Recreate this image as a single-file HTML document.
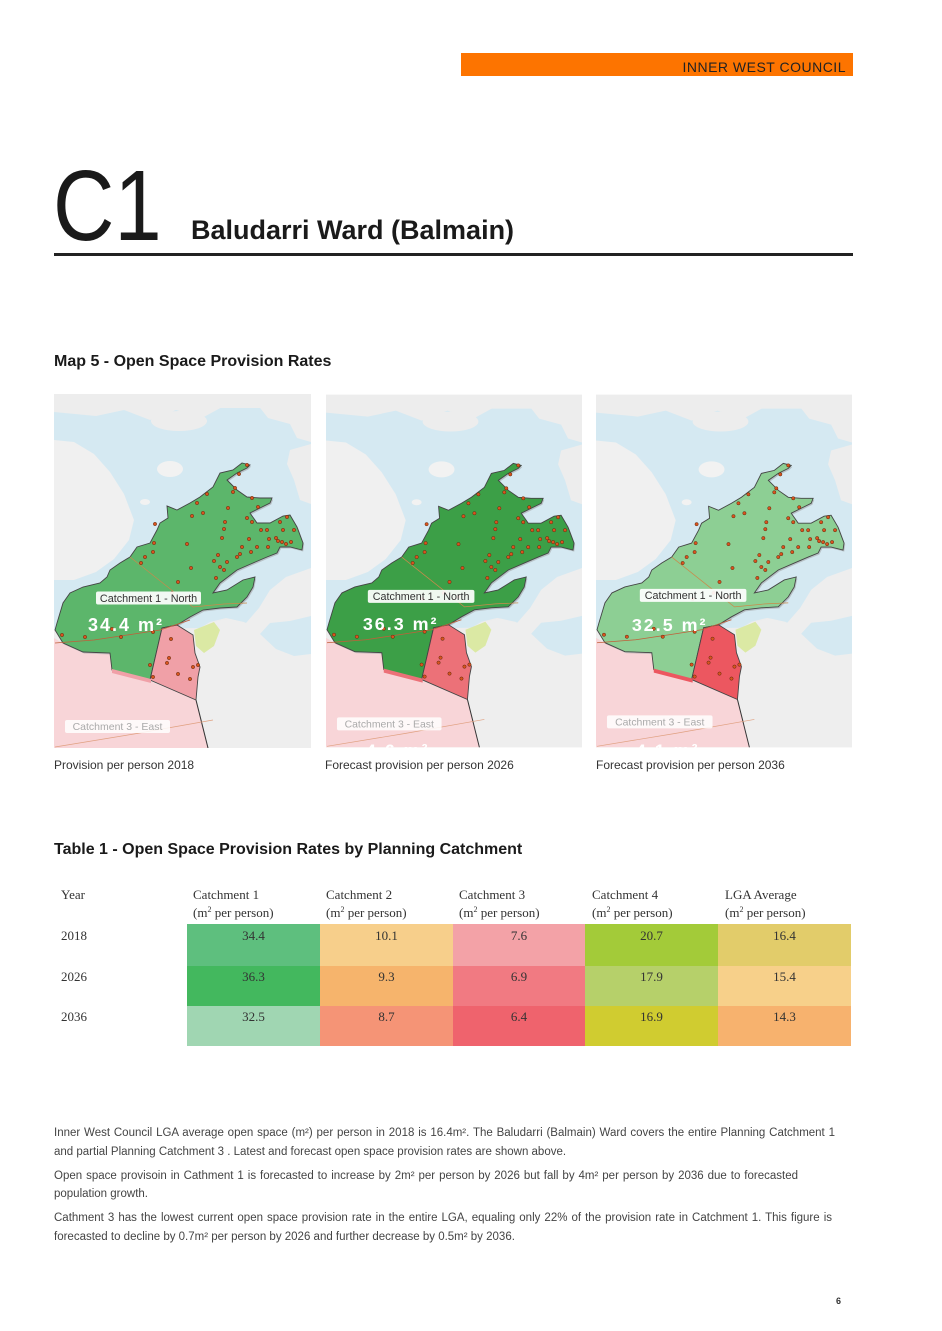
<!DOCTYPE html>
<html><head><meta charset="utf-8">
<style>
html,body{margin:0;padding:0;background:#fff;}
body{width:942px;height:1331px;position:relative;overflow:hidden;font-family:"Liberation Sans",Arial,sans-serif;color:#222;}
.a{position:absolute;white-space:nowrap;}
.bar{position:absolute;left:461px;top:53px;width:392px;height:23px;background:#fd7400;}
.bar span{position:absolute;right:7px;top:5px;font-size:14px;letter-spacing:0.5px;color:#222;line-height:18px;}
.c1{position:absolute;left:53px;top:156px;font-size:100px;line-height:100px;color:#1a1a1a;transform:scaleX(0.85);transform-origin:0 0;}
.t1{position:absolute;left:191px;top:215px;font-size:27px;font-weight:bold;line-height:30px;color:#1a1a1a;}
.rule{position:absolute;left:54px;top:253px;width:799px;height:3px;background:#222;}
.h2{position:absolute;left:54px;font-size:16px;font-weight:bold;line-height:20px;color:#1a1a1a;white-space:nowrap;}
.map{position:absolute;top:394px;}
.cap{position:absolute;top:757px;font-size:12px;line-height:16px;color:#333;white-space:nowrap;}
.ser{font-family:"Liberation Serif","Times New Roman",serif;font-size:13px;line-height:16px;color:#333;position:absolute;white-space:nowrap;}
.ser sup{font-size:8px;line-height:0;vertical-align:5px;}
.cell{position:absolute;font-family:"Liberation Serif","Times New Roman",serif;font-size:13px;color:#333;text-align:center;line-height:16px;box-sizing:border-box;padding-top:4px;}
.p{position:absolute;left:54px;font-size:11.5px;line-height:19px;color:#444;white-space:nowrap;}
.j{text-align:justify;text-align-last:justify;white-space:normal;}
</style></head><body>

<div class="bar"><span>INNER WEST COUNCIL</span></div>
<div class="c1">C1</div>
<div class="t1">Baludarri Ward (Balmain)</div>
<div class="rule"></div>

<div class="h2" style="top:352px;">Map 5 - Open Space Provision Rates</div>

<!-- MAP 1 -->
<svg class="map" style="left:54px;" width="257" height="354" viewBox="0 0 257 354">
<rect width="257" height="354" fill="#ededed"/>
<path d="M0,14 L257,14 L257,246 L236,258 L218,252 L206,236 L190,228 L172,224 L156,228 L146,234 L0,236 Z" fill="#d5e9f2"/>
<path d="M0,0 H257 V10 L232,16 L205,9 L170,12 L148,24 L122,16 L96,26 L70,16 L42,22 L0,18 Z" fill="#ededed"/>
<path d="M203,10 L257,6 V48 L243,44 L236,30 L214,24 Z" fill="#ededed"/>
<path d="M236,56 L257,50 V110 L246,106 L240,86 L233,70 Z" fill="#ededed"/>
<ellipse cx="125" cy="27" rx="28" ry="10" fill="#ededed"/>
<ellipse cx="116" cy="75" rx="13" ry="8" fill="#f2f2f2"/>
<ellipse cx="91" cy="108" rx="5" ry="3" fill="#f2f2f2"/>
<path d="M0,46 L20,48 L40,60 L56,78 L70,100 L80,126 L75,146 L60,165 L42,178 L20,186 L0,186 Z" fill="#f0f0f0"/>
<path d="M146,236 L160,228 L176,225 L192,229 L205,214 L216,196 L232,183 L257,174 V354 H154 L142,306 L146,273 L141,259 L139,241 Z" fill="#eeeeee"/>
<path d="M206,240 L216,229 L236,227 L257,222 V260 L240,262 L222,255 Z" fill="#d5e9f2"/>
<path d="M0,244 L10,250 L29,259 L56,260 L58,277 L96,287 L142,306 L154,354 H0 Z" fill="#f8d5d8"/>
<path d="M140,236 L150,232 L160,228 L166,236 L160,252 L150,259 L142,252 Z" fill="#dbe9a4"/>
<path d="M1,236 L9,249 L29,258 L56,259 L58,276 L96,286 L108,234 L123,231 L136,223 L149,216 L166,214 L183,213 L193,203 L199,193 L201,183 L189,186 L173,196 L159,199 L166,189 L183,176 L199,169 L213,163 L223,159 L226,153 L236,153 L248,156 L249,149 L243,133 L236,121 L229,122 L216,129 L203,129 L196,119 L206,114 L216,109 L218,104 L206,104 L193,103 L183,96 L173,86 L183,79 L193,74 L196,71 L188,69 L179,76 L166,79 L159,93 L146,103 L136,109 L123,116 L113,112 L114,124 L106,129 L103,136 L96,149 L83,153 L76,163 L66,169 L56,176 L53,183 L46,189 L29,193 L16,199 L9,209 L3,229 Z" fill="#9a9a9a" opacity="0.5" transform="translate(1.2,1.5)"/>
<path d="M1,236 L9,249 L29,258 L56,259 L58,276 L96,286 L108,234 L123,231 L136,223 L149,216 L166,214 L183,213 L193,203 L199,193 L201,183 L189,186 L173,196 L159,199 L166,189 L183,176 L199,169 L213,163 L223,159 L226,153 L236,153 L248,156 L249,149 L243,133 L236,121 L229,122 L216,129 L203,129 L196,119 L206,114 L216,109 L218,104 L206,104 L193,103 L183,96 L173,86 L183,79 L193,74 L196,71 L188,69 L179,76 L166,79 L159,93 L146,103 L136,109 L123,116 L113,112 L114,124 L106,129 L103,136 L96,149 L83,153 L76,163 L66,169 L56,176 L53,183 L46,189 L29,193 L16,199 L9,209 L3,229 Z" fill="#5cb66b" stroke="#444" stroke-width="0.9"/>
<path d="M108,234 L123,231 L139,241 L141,259 L146,273 L144,283 L142,306 L96,286 Z" fill="#f0a0a7" stroke="#444" stroke-width="0.9"/>
<path d="M58,275 L97,285 L97,289 L58,279 Z" fill="#f0a0a7"/>
<path d="M142,306 L154,354" stroke="#333" stroke-width="1" fill="none"/>
<path d="M76,163 L110,190 L139,213 L170,210 L193,209" stroke="#c98a4b" stroke-width="0.7" fill="none"/>
<path d="M1,249 L40,246 L80,240 L106,236 L136,226" stroke="#c0603a" stroke-width="0.8" fill="none"/>
<path d="M1,353 L80,340 L159,326" stroke="#e0a080" stroke-width="0.7" fill="none"/>
<g fill="#d9531e" stroke="#5a2a10" stroke-width="0.5">
<circle cx="193" cy="71" r="1.7"/><circle cx="185" cy="80" r="1.7"/><circle cx="181" cy="94" r="1.7"/><circle cx="179" cy="98" r="1.7"/><circle cx="153" cy="100" r="1.7"/><circle cx="143" cy="109" r="1.7"/><circle cx="174" cy="114" r="1.7"/><circle cx="198" cy="104" r="1.7"/><circle cx="204" cy="113" r="1.7"/><circle cx="149" cy="119" r="1.7"/><circle cx="138" cy="122" r="1.7"/><circle cx="171" cy="128" r="1.7"/><circle cx="193" cy="124" r="1.7"/><circle cx="198" cy="128" r="1.7"/><circle cx="233" cy="123" r="1.7"/><circle cx="226" cy="128" r="1.7"/><circle cx="101" cy="130" r="1.7"/><circle cx="170" cy="135" r="1.7"/><circle cx="207" cy="136" r="1.7"/><circle cx="213" cy="136" r="1.7"/><circle cx="229" cy="136" r="1.7"/><circle cx="240" cy="136" r="1.7"/><circle cx="168" cy="144" r="1.7"/><circle cx="195" cy="145" r="1.7"/><circle cx="215" cy="145" r="1.7"/><circle cx="222" cy="144" r="1.7"/><circle cx="224" cy="147" r="1.7"/><circle cx="228" cy="148" r="1.7"/><circle cx="237" cy="148" r="1.7"/><circle cx="100" cy="149" r="1.7"/><circle cx="133" cy="150" r="1.7"/><circle cx="203" cy="153" r="1.7"/><circle cx="214" cy="153" r="1.7"/><circle cx="232" cy="150" r="1.7"/><circle cx="188" cy="153" r="1.7"/><circle cx="99" cy="158" r="1.7"/><circle cx="197" cy="158" r="1.7"/><circle cx="164" cy="161" r="1.7"/><circle cx="186" cy="160" r="1.7"/><circle cx="91" cy="163" r="1.7"/><circle cx="183" cy="163" r="1.7"/><circle cx="160" cy="167" r="1.7"/><circle cx="173" cy="168" r="1.7"/><circle cx="87" cy="169" r="1.7"/><circle cx="137" cy="174" r="1.7"/><circle cx="166" cy="173" r="1.7"/><circle cx="170" cy="176" r="1.7"/><circle cx="162" cy="184" r="1.7"/><circle cx="124" cy="188" r="1.7"/><circle cx="118" cy="199" r="1.7"/><circle cx="97" cy="205" r="1.7"/><circle cx="133" cy="203" r="1.7"/><circle cx="8" cy="241" r="1.7"/><circle cx="31" cy="243" r="1.7"/><circle cx="58" cy="235" r="1.7"/><circle cx="67" cy="243" r="1.7"/><circle cx="99" cy="238" r="1.7"/><circle cx="96" cy="271" r="1.7"/><circle cx="99" cy="283" r="1.7"/>
<circle cx="117" cy="245" r="1.7"/><circle cx="115" cy="264" r="1.7"/><circle cx="113" cy="269" r="1.7"/><circle cx="139" cy="273" r="1.7"/><circle cx="124" cy="280" r="1.7"/><circle cx="136" cy="285" r="1.7"/><circle cx="144" cy="271" r="1.7"/>
</g>
<rect x="42" y="197.5" width="105" height="13" rx="2" fill="#fff" opacity="0.92"/>
<text x="94.5" y="207.8" text-anchor="middle" font-family="Liberation Sans, sans-serif" font-size="10.8" fill="#333">Catchment 1 - North</text>
<text x="34" y="237" font-family="Liberation Sans, sans-serif" font-size="18" font-weight="bold" fill="#fff" letter-spacing="2">34.4 m²</text>
<rect x="11" y="326" width="105" height="13" rx="2" fill="#fff" opacity="0.85"/>
<text x="63.5" y="336" text-anchor="middle" font-family="Liberation Sans, sans-serif" font-size="10.5" fill="#aaa">Catchment 3 - East</text>
</svg>

<!-- MAP 2 -->
<svg class="map" style="left:326px;" width="256" height="354" viewBox="0 0 257 354">
<rect width="257" height="354" fill="#ededed"/>
<path d="M0,14 L257,14 L257,246 L236,258 L218,252 L206,236 L190,228 L172,224 L156,228 L146,234 L0,236 Z" fill="#d5e9f2"/>
<path d="M0,0 H257 V10 L232,16 L205,9 L170,12 L148,24 L122,16 L96,26 L70,16 L42,22 L0,18 Z" fill="#ededed"/>
<path d="M203,10 L257,6 V48 L243,44 L236,30 L214,24 Z" fill="#ededed"/>
<path d="M236,56 L257,50 V110 L246,106 L240,86 L233,70 Z" fill="#ededed"/>
<ellipse cx="125" cy="27" rx="28" ry="10" fill="#ededed"/>
<ellipse cx="116" cy="75" rx="13" ry="8" fill="#f2f2f2"/>
<ellipse cx="91" cy="108" rx="5" ry="3" fill="#f2f2f2"/>
<path d="M0,46 L20,48 L40,60 L56,78 L70,100 L80,126 L75,146 L60,165 L42,178 L20,186 L0,186 Z" fill="#f0f0f0"/>
<path d="M146,236 L160,228 L176,225 L192,229 L205,214 L216,196 L232,183 L257,174 V354 H154 L142,306 L146,273 L141,259 L139,241 Z" fill="#eeeeee"/>
<path d="M206,240 L216,229 L236,227 L257,222 V260 L240,262 L222,255 Z" fill="#d5e9f2"/>
<path d="M0,244 L10,250 L29,259 L56,260 L58,277 L96,287 L142,306 L154,354 H0 Z" fill="#f8d5d8"/>
<path d="M140,236 L150,232 L160,228 L166,236 L160,252 L150,259 L142,252 Z" fill="#dbe9a4"/>
<path d="M1,236 L9,249 L29,258 L56,259 L58,276 L96,286 L108,234 L123,231 L136,223 L149,216 L166,214 L183,213 L193,203 L199,193 L201,183 L189,186 L173,196 L159,199 L166,189 L183,176 L199,169 L213,163 L223,159 L226,153 L236,153 L248,156 L249,149 L243,133 L236,121 L229,122 L216,129 L203,129 L196,119 L206,114 L216,109 L218,104 L206,104 L193,103 L183,96 L173,86 L183,79 L193,74 L196,71 L188,69 L179,76 L166,79 L159,93 L146,103 L136,109 L123,116 L113,112 L114,124 L106,129 L103,136 L96,149 L83,153 L76,163 L66,169 L56,176 L53,183 L46,189 L29,193 L16,199 L9,209 L3,229 Z" fill="#9a9a9a" opacity="0.5" transform="translate(1.2,1.5)"/>
<path d="M1,236 L9,249 L29,258 L56,259 L58,276 L96,286 L108,234 L123,231 L136,223 L149,216 L166,214 L183,213 L193,203 L199,193 L201,183 L189,186 L173,196 L159,199 L166,189 L183,176 L199,169 L213,163 L223,159 L226,153 L236,153 L248,156 L249,149 L243,133 L236,121 L229,122 L216,129 L203,129 L196,119 L206,114 L216,109 L218,104 L206,104 L193,103 L183,96 L173,86 L183,79 L193,74 L196,71 L188,69 L179,76 L166,79 L159,93 L146,103 L136,109 L123,116 L113,112 L114,124 L106,129 L103,136 L96,149 L83,153 L76,163 L66,169 L56,176 L53,183 L46,189 L29,193 L16,199 L9,209 L3,229 Z" fill="#3c9f47" stroke="#444" stroke-width="0.9"/>
<path d="M108,234 L123,231 L139,241 L141,259 L146,273 L144,283 L142,306 L96,286 Z" fill="#ec7178" stroke="#444" stroke-width="0.9"/>
<path d="M58,275 L97,285 L97,289 L58,279 Z" fill="#ec7178"/>
<path d="M142,306 L154,354" stroke="#333" stroke-width="1" fill="none"/>
<path d="M76,163 L110,190 L139,213 L170,210 L193,209" stroke="#c98a4b" stroke-width="0.7" fill="none"/>
<path d="M1,249 L40,246 L80,240 L106,236 L136,226" stroke="#c0603a" stroke-width="0.8" fill="none"/>
<path d="M1,353 L80,340 L159,326" stroke="#e0a080" stroke-width="0.7" fill="none"/>
<g fill="#d9531e" stroke="#5a2a10" stroke-width="0.5">
<circle cx="193" cy="71" r="1.7"/><circle cx="185" cy="80" r="1.7"/><circle cx="181" cy="94" r="1.7"/><circle cx="179" cy="98" r="1.7"/><circle cx="153" cy="100" r="1.7"/><circle cx="143" cy="109" r="1.7"/><circle cx="174" cy="114" r="1.7"/><circle cx="198" cy="104" r="1.7"/><circle cx="204" cy="113" r="1.7"/><circle cx="149" cy="119" r="1.7"/><circle cx="138" cy="122" r="1.7"/><circle cx="171" cy="128" r="1.7"/><circle cx="193" cy="124" r="1.7"/><circle cx="198" cy="128" r="1.7"/><circle cx="233" cy="123" r="1.7"/><circle cx="226" cy="128" r="1.7"/><circle cx="101" cy="130" r="1.7"/><circle cx="170" cy="135" r="1.7"/><circle cx="207" cy="136" r="1.7"/><circle cx="213" cy="136" r="1.7"/><circle cx="229" cy="136" r="1.7"/><circle cx="240" cy="136" r="1.7"/><circle cx="168" cy="144" r="1.7"/><circle cx="195" cy="145" r="1.7"/><circle cx="215" cy="145" r="1.7"/><circle cx="222" cy="144" r="1.7"/><circle cx="224" cy="147" r="1.7"/><circle cx="228" cy="148" r="1.7"/><circle cx="237" cy="148" r="1.7"/><circle cx="100" cy="149" r="1.7"/><circle cx="133" cy="150" r="1.7"/><circle cx="203" cy="153" r="1.7"/><circle cx="214" cy="153" r="1.7"/><circle cx="232" cy="150" r="1.7"/><circle cx="188" cy="153" r="1.7"/><circle cx="99" cy="158" r="1.7"/><circle cx="197" cy="158" r="1.7"/><circle cx="164" cy="161" r="1.7"/><circle cx="186" cy="160" r="1.7"/><circle cx="91" cy="163" r="1.7"/><circle cx="183" cy="163" r="1.7"/><circle cx="160" cy="167" r="1.7"/><circle cx="173" cy="168" r="1.7"/><circle cx="87" cy="169" r="1.7"/><circle cx="137" cy="174" r="1.7"/><circle cx="166" cy="173" r="1.7"/><circle cx="170" cy="176" r="1.7"/><circle cx="162" cy="184" r="1.7"/><circle cx="124" cy="188" r="1.7"/><circle cx="118" cy="199" r="1.7"/><circle cx="97" cy="205" r="1.7"/><circle cx="133" cy="203" r="1.7"/><circle cx="8" cy="241" r="1.7"/><circle cx="31" cy="243" r="1.7"/><circle cx="58" cy="235" r="1.7"/><circle cx="67" cy="243" r="1.7"/><circle cx="99" cy="238" r="1.7"/><circle cx="96" cy="271" r="1.7"/><circle cx="99" cy="283" r="1.7"/>
<circle cx="117" cy="245" r="1.7"/><circle cx="115" cy="264" r="1.7"/><circle cx="113" cy="269" r="1.7"/><circle cx="139" cy="273" r="1.7"/><circle cx="124" cy="280" r="1.7"/><circle cx="136" cy="285" r="1.7"/><circle cx="144" cy="271" r="1.7"/>
</g>
<rect x="42" y="196" width="107" height="13" rx="2" fill="#fff" opacity="0.92"/>
<text x="95.5" y="206" text-anchor="middle" font-family="Liberation Sans, sans-serif" font-size="10.8" fill="#333">Catchment 1 - North</text>
<text x="37" y="236" font-family="Liberation Sans, sans-serif" font-size="18" font-weight="bold" fill="#fff" letter-spacing="2">36.3 m²</text>
<rect x="11" y="324" width="105" height="13" rx="2" fill="#fff" opacity="0.85"/>
<text x="63.5" y="334" text-anchor="middle" font-family="Liberation Sans, sans-serif" font-size="10.5" fill="#aaa">Catchment 3 - East</text>
<text x="40" y="363" font-family="Liberation Sans, sans-serif" font-size="18" font-weight="bold" fill="#fff" letter-spacing="2">4.6 m²</text>
</svg>

<!-- MAP 3 -->
<svg class="map" style="left:596px;" width="256" height="354" viewBox="0 0 257 354">
<rect width="257" height="354" fill="#ededed"/>
<path d="M0,14 L257,14 L257,246 L236,258 L218,252 L206,236 L190,228 L172,224 L156,228 L146,234 L0,236 Z" fill="#d5e9f2"/>
<path d="M0,0 H257 V10 L232,16 L205,9 L170,12 L148,24 L122,16 L96,26 L70,16 L42,22 L0,18 Z" fill="#ededed"/>
<path d="M203,10 L257,6 V48 L243,44 L236,30 L214,24 Z" fill="#ededed"/>
<path d="M236,56 L257,50 V110 L246,106 L240,86 L233,70 Z" fill="#ededed"/>
<ellipse cx="125" cy="27" rx="28" ry="10" fill="#ededed"/>
<ellipse cx="116" cy="75" rx="13" ry="8" fill="#f2f2f2"/>
<ellipse cx="91" cy="108" rx="5" ry="3" fill="#f2f2f2"/>
<path d="M0,46 L20,48 L40,60 L56,78 L70,100 L80,126 L75,146 L60,165 L42,178 L20,186 L0,186 Z" fill="#f0f0f0"/>
<path d="M146,236 L160,228 L176,225 L192,229 L205,214 L216,196 L232,183 L257,174 V354 H154 L142,306 L146,273 L141,259 L139,241 Z" fill="#eeeeee"/>
<path d="M206,240 L216,229 L236,227 L257,222 V260 L240,262 L222,255 Z" fill="#d5e9f2"/>
<path d="M0,244 L10,250 L29,259 L56,260 L58,277 L96,287 L142,306 L154,354 H0 Z" fill="#f8d5d8"/>
<path d="M140,236 L150,232 L160,228 L166,236 L160,252 L150,259 L142,252 Z" fill="#dbe9a4"/>
<path d="M1,236 L9,249 L29,258 L56,259 L58,276 L96,286 L108,234 L123,231 L136,223 L149,216 L166,214 L183,213 L193,203 L199,193 L201,183 L189,186 L173,196 L159,199 L166,189 L183,176 L199,169 L213,163 L223,159 L226,153 L236,153 L248,156 L249,149 L243,133 L236,121 L229,122 L216,129 L203,129 L196,119 L206,114 L216,109 L218,104 L206,104 L193,103 L183,96 L173,86 L183,79 L193,74 L196,71 L188,69 L179,76 L166,79 L159,93 L146,103 L136,109 L123,116 L113,112 L114,124 L106,129 L103,136 L96,149 L83,153 L76,163 L66,169 L56,176 L53,183 L46,189 L29,193 L16,199 L9,209 L3,229 Z" fill="#9a9a9a" opacity="0.5" transform="translate(1.2,1.5)"/>
<path d="M1,236 L9,249 L29,258 L56,259 L58,276 L96,286 L108,234 L123,231 L136,223 L149,216 L166,214 L183,213 L193,203 L199,193 L201,183 L189,186 L173,196 L159,199 L166,189 L183,176 L199,169 L213,163 L223,159 L226,153 L236,153 L248,156 L249,149 L243,133 L236,121 L229,122 L216,129 L203,129 L196,119 L206,114 L216,109 L218,104 L206,104 L193,103 L183,96 L173,86 L183,79 L193,74 L196,71 L188,69 L179,76 L166,79 L159,93 L146,103 L136,109 L123,116 L113,112 L114,124 L106,129 L103,136 L96,149 L83,153 L76,163 L66,169 L56,176 L53,183 L46,189 L29,193 L16,199 L9,209 L3,229 Z" fill="#8dcf94" stroke="#444" stroke-width="0.9"/>
<path d="M108,234 L123,231 L139,241 L141,259 L146,273 L144,283 L142,306 L96,286 Z" fill="#ec5760" stroke="#444" stroke-width="0.9"/>
<path d="M58,275 L97,285 L97,289 L58,279 Z" fill="#ec5760"/>
<path d="M142,306 L154,354" stroke="#333" stroke-width="1" fill="none"/>
<path d="M76,163 L110,190 L139,213 L170,210 L193,209" stroke="#c98a4b" stroke-width="0.7" fill="none"/>
<path d="M1,249 L40,246 L80,240 L106,236 L136,226" stroke="#c0603a" stroke-width="0.8" fill="none"/>
<path d="M1,353 L80,340 L159,326" stroke="#e0a080" stroke-width="0.7" fill="none"/>
<g fill="#d9531e" stroke="#5a2a10" stroke-width="0.5">
<circle cx="193" cy="71" r="1.7"/><circle cx="185" cy="80" r="1.7"/><circle cx="181" cy="94" r="1.7"/><circle cx="179" cy="98" r="1.7"/><circle cx="153" cy="100" r="1.7"/><circle cx="143" cy="109" r="1.7"/><circle cx="174" cy="114" r="1.7"/><circle cx="198" cy="104" r="1.7"/><circle cx="204" cy="113" r="1.7"/><circle cx="149" cy="119" r="1.7"/><circle cx="138" cy="122" r="1.7"/><circle cx="171" cy="128" r="1.7"/><circle cx="193" cy="124" r="1.7"/><circle cx="198" cy="128" r="1.7"/><circle cx="233" cy="123" r="1.7"/><circle cx="226" cy="128" r="1.7"/><circle cx="101" cy="130" r="1.7"/><circle cx="170" cy="135" r="1.7"/><circle cx="207" cy="136" r="1.7"/><circle cx="213" cy="136" r="1.7"/><circle cx="229" cy="136" r="1.7"/><circle cx="240" cy="136" r="1.7"/><circle cx="168" cy="144" r="1.7"/><circle cx="195" cy="145" r="1.7"/><circle cx="215" cy="145" r="1.7"/><circle cx="222" cy="144" r="1.7"/><circle cx="224" cy="147" r="1.7"/><circle cx="228" cy="148" r="1.7"/><circle cx="237" cy="148" r="1.7"/><circle cx="100" cy="149" r="1.7"/><circle cx="133" cy="150" r="1.7"/><circle cx="203" cy="153" r="1.7"/><circle cx="214" cy="153" r="1.7"/><circle cx="232" cy="150" r="1.7"/><circle cx="188" cy="153" r="1.7"/><circle cx="99" cy="158" r="1.7"/><circle cx="197" cy="158" r="1.7"/><circle cx="164" cy="161" r="1.7"/><circle cx="186" cy="160" r="1.7"/><circle cx="91" cy="163" r="1.7"/><circle cx="183" cy="163" r="1.7"/><circle cx="160" cy="167" r="1.7"/><circle cx="173" cy="168" r="1.7"/><circle cx="87" cy="169" r="1.7"/><circle cx="137" cy="174" r="1.7"/><circle cx="166" cy="173" r="1.7"/><circle cx="170" cy="176" r="1.7"/><circle cx="162" cy="184" r="1.7"/><circle cx="124" cy="188" r="1.7"/><circle cx="118" cy="199" r="1.7"/><circle cx="97" cy="205" r="1.7"/><circle cx="133" cy="203" r="1.7"/><circle cx="8" cy="241" r="1.7"/><circle cx="31" cy="243" r="1.7"/><circle cx="58" cy="235" r="1.7"/><circle cx="67" cy="243" r="1.7"/><circle cx="99" cy="238" r="1.7"/><circle cx="96" cy="271" r="1.7"/><circle cx="99" cy="283" r="1.7"/>
<circle cx="117" cy="245" r="1.7"/><circle cx="115" cy="264" r="1.7"/><circle cx="113" cy="269" r="1.7"/><circle cx="139" cy="273" r="1.7"/><circle cx="124" cy="280" r="1.7"/><circle cx="136" cy="285" r="1.7"/><circle cx="144" cy="271" r="1.7"/>
</g>
<rect x="44" y="195" width="107" height="13" rx="2" fill="#fff" opacity="0.92"/>
<text x="97.5" y="205" text-anchor="middle" font-family="Liberation Sans, sans-serif" font-size="10.8" fill="#333">Catchment 1 - North</text>
<text x="36" y="237" font-family="Liberation Sans, sans-serif" font-size="18" font-weight="bold" fill="#fff" letter-spacing="2">32.5 m²</text>
<rect x="11" y="322" width="106" height="13" rx="2" fill="#fff" opacity="0.85"/>
<text x="64" y="332" text-anchor="middle" font-family="Liberation Sans, sans-serif" font-size="10.5" fill="#aaa">Catchment 3 - East</text>
<text x="40" y="363" font-family="Liberation Sans, sans-serif" font-size="18" font-weight="bold" fill="#fff" letter-spacing="2">4.1 m²</text>
</svg>

<div class="cap" style="left:54px;">Provision per person 2018</div>
<div class="cap" style="left:325px;">Forecast provision per person 2026</div>
<div class="cap" style="left:596px;">Forecast provision per person 2036</div>

<div class="h2" style="top:840px;">Table 1 - Open Space Provision Rates by Planning Catchment</div>

<!-- table header -->
<div class="ser" style="left:61px;top:887px;">Year</div>
<div class="ser" style="left:193px;top:887px;">Catchment 1</div>
<div class="ser" style="left:193px;top:905px;">(m<sup>2</sup> per person)</div>
<div class="ser" style="left:326px;top:887px;">Catchment 2</div>
<div class="ser" style="left:326px;top:905px;">(m<sup>2</sup> per person)</div>
<div class="ser" style="left:459px;top:887px;">Catchment 3</div>
<div class="ser" style="left:459px;top:905px;">(m<sup>2</sup> per person)</div>
<div class="ser" style="left:592px;top:887px;">Catchment 4</div>
<div class="ser" style="left:592px;top:905px;">(m<sup>2</sup> per person)</div>
<div class="ser" style="left:725px;top:887px;">LGA Average</div>
<div class="ser" style="left:725px;top:905px;">(m<sup>2</sup> per person)</div>

<div class="ser" style="left:61px;top:928px;">2018</div>
<div class="ser" style="left:61px;top:969px;">2026</div>
<div class="ser" style="left:61px;top:1009px;">2036</div>

<!-- row 2018 -->
<div class="cell" style="left:187px;top:924px;width:133px;height:42px;background:#5ebf7e;">34.4</div>
<div class="cell" style="left:320px;top:924px;width:133px;height:42px;background:#f7cf8b;">10.1</div>
<div class="cell" style="left:453px;top:924px;width:132px;height:42px;background:#f3a2a7;">7.6</div>
<div class="cell" style="left:585px;top:924px;width:133px;height:42px;background:#a3cb39;">20.7</div>
<div class="cell" style="left:718px;top:924px;width:133px;height:42px;background:#e2cc6a;">16.4</div>
<!-- row 2026 -->
<div class="cell" style="left:187px;top:966px;width:133px;height:40px;background:#43b85e;padding-top:3px;">36.3</div>
<div class="cell" style="left:320px;top:966px;width:133px;height:40px;background:#f6b46c;padding-top:3px;">9.3</div>
<div class="cell" style="left:453px;top:966px;width:132px;height:40px;background:#f17a82;padding-top:3px;">6.9</div>
<div class="cell" style="left:585px;top:966px;width:133px;height:40px;background:#b6d06a;padding-top:3px;">17.9</div>
<div class="cell" style="left:718px;top:966px;width:133px;height:40px;background:#f7d08a;padding-top:3px;">15.4</div>
<!-- row 2036 -->
<div class="cell" style="left:187px;top:1006px;width:133px;height:40px;background:#a0d6b2;padding-top:3px;">32.5</div>
<div class="cell" style="left:320px;top:1006px;width:133px;height:40px;background:#f59476;padding-top:3px;">8.7</div>
<div class="cell" style="left:453px;top:1006px;width:132px;height:40px;background:#ef636d;padding-top:3px;">6.4</div>
<div class="cell" style="left:585px;top:1006px;width:133px;height:40px;background:#d0cc30;padding-top:3px;">16.9</div>
<div class="cell" style="left:718px;top:1006px;width:133px;height:40px;background:#f7b26e;padding-top:3px;">14.3</div>

<!-- paragraphs -->
<div class="p j" style="top:1124px;width:781px;">Inner West Council LGA average open space (m²) per person in 2018 is 16.4m². The Baludarri (Balmain) Ward covers the entire Planning Catchment 1</div>
<div class="p" style="top:1143px;">and partial Planning Catchment 3 . Latest and forecast open space provision rates are shown above.</div>
<div class="p j" style="top:1167px;width:744px;">Open space provisoin in Cathment 1 is forecasted to increase by 2m² per person by 2026 but fall by 4m² per person by 2036 due to forecasted</div>
<div class="p" style="top:1185px;">population growth.</div>
<div class="p j" style="top:1209px;width:778px;">Cathment 3 has the lowest current open space provision rate in the entire LGA, equaling only 22% of the provision rate in Catchment 1. This figure is</div>
<div class="p" style="top:1228px;">forecasted to decline by 0.7m² per person by 2026 and further decrease by 0.5m² by 2036.</div>

<div class="a" style="left:836px;top:1295px;font-size:9px;font-weight:bold;color:#333;line-height:12px;">6</div>

</body></html>
